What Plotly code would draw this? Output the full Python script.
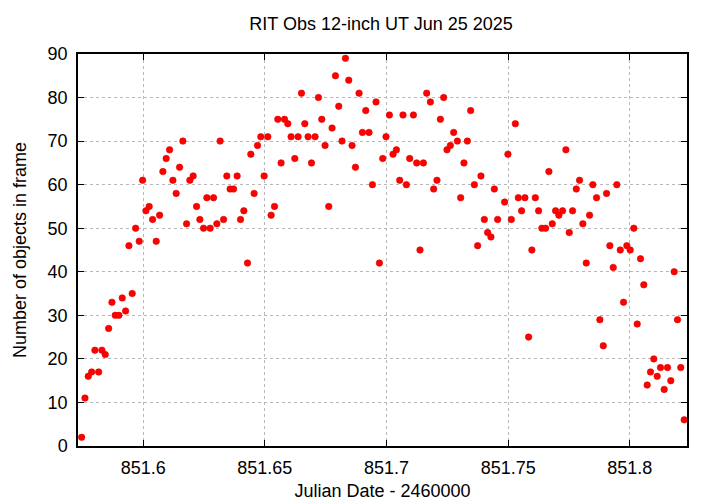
import plotly.graph_objects as go

title_text = "RIT Obs 12-inch UT Jun 25 2025"
x_label = "Julian Date - 2460000"
y_label = "Number of objects in frame"

jd = [
    851.57470, 851.57606, 851.57741, 851.57881, 851.58016, 851.58168, 851.58304, 851.58439, 851.58579, 851.58715,
    851.58850, 851.59002, 851.59138, 851.59277, 851.59413, 851.59548, 851.59688, 851.59836, 851.59975, 851.60111,
    851.60246, 851.60386, 851.60534, 851.60674, 851.60809, 851.60945, 851.61084, 851.61220, 851.61355, 851.61495,
    851.61630, 851.61782, 851.61918, 851.62053, 851.62193, 851.62329,
    851.62480, 851.62616, 851.62752, 851.62891, 851.63027, 851.63162, 851.63302, 851.63437, 851.63573, 851.63713,
    851.63860, 851.64000, 851.64136, 851.64287, 851.64423, 851.64559, 851.64698, 851.64834, 851.64969, 851.65121,
    851.65257, 851.65396, 851.65532, 851.65667, 851.65807, 851.65943, 851.66078, 851.66230, 851.66366, 851.66505,
    851.66641, 851.66776, 851.66916, 851.67064, 851.67203,
    851.67339, 851.67474, 851.67626, 851.67762, 851.67901, 851.68037, 851.68172, 851.68312, 851.68448, 851.68583,
    851.68723, 851.68871, 851.69010, 851.69146, 851.69281, 851.69421, 851.69569, 851.69708, 851.69844, 851.69979,
    851.70119, 851.70267, 851.70407, 851.70542, 851.70678, 851.70817, 851.70953, 851.71105, 851.71240, 851.71376,
    851.71515, 851.71651, 851.71803, 851.71938, 851.72074, 851.72214,
    851.72349, 851.72485, 851.72624, 851.72760, 851.72912, 851.73047, 851.73183, 851.73322, 851.73458, 851.73610,
    851.73745, 851.73881, 851.74021, 851.74156, 851.74292, 851.74431, 851.74567, 851.74854, 851.74990, 851.75129,
    851.75294, 851.75417, 851.75552, 851.75688, 851.75840, 851.75975, 851.76115, 851.76251, 851.76386, 851.76538,
    851.76674, 851.76813, 851.76949, 851.77084,
    851.77236, 851.77372, 851.77511, 851.77647, 851.77799, 851.77934, 851.78070, 851.78209, 851.78345, 851.78480,
    851.78632, 851.78768, 851.78908, 851.79043, 851.79179, 851.79318, 851.79466, 851.79606, 851.79741, 851.79877,
    851.80016, 851.80164, 851.80304, 851.80439, 851.80575, 851.80714, 851.80850, 851.80986, 851.81125, 851.81261,
    851.81413, 851.81548, 851.81684, 851.81823, 851.81959, 851.82094, 851.82234,
]

counts = [
    2, 11, 16, 17, 22, 17, 22, 21, 27, 33, 30, 30, 34, 31, 46, 35, 50, 47, 61, 54,
    55, 52, 47, 53, 63, 66, 68, 61, 58, 64, 70, 51, 61, 62, 55, 52,
    50, 57, 50, 57, 51, 70, 52, 62, 59, 59, 62, 52, 54, 42, 67, 58, 69, 71, 62, 71,
    53, 55, 75, 65, 75, 74, 71, 66, 71, 81, 74, 71, 65, 71, 80,
    75, 69, 55, 73, 85, 78, 70, 89, 84, 69, 64, 81, 72, 77, 72, 60, 79, 42, 66, 71,
    76, 67, 68, 61, 76, 60, 66, 76, 65, 45, 65, 81, 79, 59, 61, 75,
    80, 68, 69, 72, 70, 57, 65, 70, 77, 60, 46, 62, 52, 49, 48, 59, 52, 56, 67, 52,
    74, 57, 54, 57, 25, 45, 57, 54, 50, 50, 63, 51, 54, 53,
    54, 68, 49, 54, 59, 61, 51, 42, 53, 60, 57, 29, 23, 58, 46, 41, 60, 45, 33, 46,
    45, 50, 28, 43, 37, 14, 17, 20, 16, 18, 13, 18, 15, 40, 29, 18, 6,
]

x_ticks = [851.6, 851.65, 851.7, 851.75, 851.8]
x_tick_labels = ["851.6", "851.65", "851.7", "851.75", "851.8"]
y_ticks = [0, 10, 20, 30, 40, 50, 60, 70, 80, 90]

FONT = "Liberation Sans, Arial, sans-serif"

fig = go.Figure()
fig.add_trace(go.Scatter(
    x=jd, y=counts, mode="markers",
    marker=dict(symbol="circle", size=6.5, color="#ff0000", line=dict(width=0.6, color="#e00000")),
    showlegend=False,
))

axis_common = dict(
    showline=True, linecolor="black", linewidth=1.5, mirror="ticks",
    ticks="inside", ticklen=6, tickwidth=1.2, tickcolor="black",
    showgrid=True, gridcolor="#b8b8b8", griddash="dot", gridwidth=1,
    zeroline=False, automargin=False,
    tickfont=dict(family=FONT, size=18, color="black"),
)

# page body has an 8px margin, so the figure is sized to fit the 720x504 window
fig.update_layout(
    width=712, height=496,
    paper_bgcolor="white", plot_bgcolor="white",
    margin=dict(l=70, r=33, t=46, b=58),
    font=dict(family=FONT, size=18, color="black"),
    title=dict(text=title_text, x=0.524, xanchor="center", y=0.968, yanchor="middle",
               font=dict(family=FONT, size=18, color="black")),
    xaxis=dict(range=[851.5732, 851.8235], tickvals=x_ticks, ticktext=x_tick_labels,
               ticklabelstandoff=5,
               title=dict(text=x_label, standoff=7, font=dict(family=FONT, size=18)),
               **axis_common),
    yaxis=dict(range=[0, 90], tickvals=y_ticks, ticklabelstandoff=5,
               title=dict(text=y_label, standoff=16, font=dict(family=FONT, size=18)),
               **axis_common),
)

fig.write_html("out.html")
